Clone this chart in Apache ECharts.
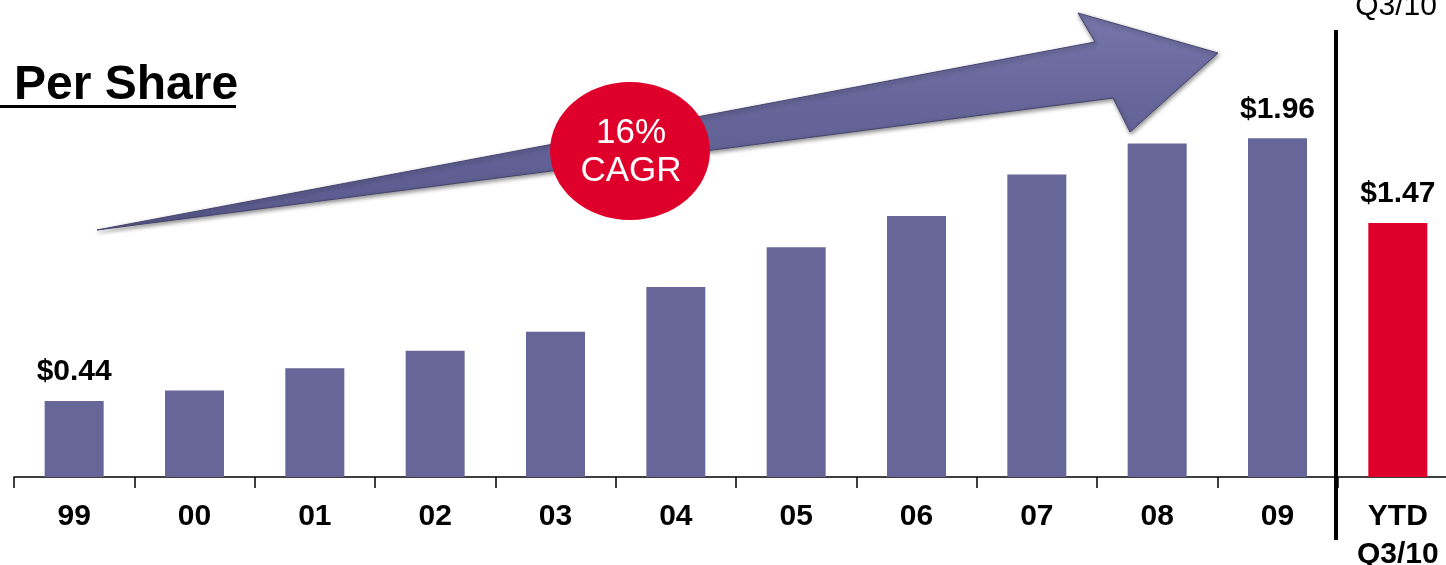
<!DOCTYPE html>
<html>
<head>
<meta charset="utf-8">
<script src="https://cdn.jsdelivr.net/npm/echarts@6/dist/echarts.min.js"></script>
<style>
html,body{margin:0;padding:0;background:#fff;}
#c{width:1446px;height:565px;}
</style>
</head>
<body>
<div id="c"></div>
<script>
var categories = ['99','00','01','02','03','04','05','06','07','08','09','YTD\nQ3/10'];
var values = [0.44,0.50,0.63,0.73,0.84,1.10,1.33,1.51,1.75,1.93,1.96,1.47];
var labelledIdx = [0,10,11];
var cagrText = '16%\nCAGR';
var titleText = 'Per Share';
var topNote = 'Q3/10';

var FONT = '"Liberation Sans", Arial, sans-serif';
var BLUE = '#666699', RED = '#de002b';

var chart = echarts.init(document.getElementById('c'));
var data = values.map(function(v,i){
  return {
    value: v,
    itemStyle: {color: i === values.length-1 ? RED : BLUE},
    label: {show: labelledIdx.indexOf(i) >= 0}
  };
});

chart.setOption({
  animation: false,
  backgroundColor: '#fff',
  grid: {left: 14, right: -12, top: 45, bottom: 88, containLabel: false, outerBoundsMode: 'none'},
  xAxis: {
    type: 'category',
    data: categories,
    axisLine: {show: true, lineStyle: {color: '#000', width: 1.5}},
    axisTick: {show: true, length: 11, alignWithLabel: false, lineStyle: {color: '#000', width: 1.5}},
    axisLabel: {color: '#000', fontFamily: FONT, fontWeight: 'bold', fontSize: 30, margin: 21, lineHeight: 38, interval: 0, hideOverlap: false}
  },
  yAxis: {type: 'value', min: 0, max: 2.5, show: false, splitLine: {show: false}},
  series: [{
    type: 'bar',
    data: data,
    barWidth: 59,
    label: {
      position: 'top', distance: 14, color: '#000', fontFamily: FONT, fontWeight: 'bold', fontSize: 30,
      formatter: function(p){ return '$' + p.value.toFixed(2); }
    }
  }],
  graphic: [
    {type: 'polygon', z: 5,
     shape: {points: [[97,230],[1095,42],[1078,13],[1218,53],[1130,132],[1113,98]]},
     style: {fill: new echarts.graphic.LinearGradient(0,0,0,1,[
        {offset:0,color:'#7676aa'},{offset:0.4,color:'#66669a'},{offset:1,color:'#5a5a8e'}]),
        stroke: '#44446f', lineWidth: 1,
        shadowBlur: 4, shadowColor: 'rgba(0,0,0,0.45)', shadowOffsetX: 1, shadowOffsetY: 2}},
    {type: 'ellipse', z: 10, shape: {cx: 630, cy: 151, rx: 80, ry: 69}, style: {fill: RED}},
    {type: 'text', z: 11, x: 631, y: 152,
     style: {text: cagrText, fill: '#fff', font: '35px ' + FONT, align: 'center', verticalAlign: 'middle', lineHeight: 38}},
    {type: 'text', z: 11, x: 14, y: 86,
     style: {text: titleText, fill: '#000', font: 'bold 48px ' + FONT, align: 'left', verticalAlign: 'middle'}},
    {type: 'rect', z: 11, shape: {x: 0, y: 105, width: 236, height: 3}, style: {fill: '#000'}},
    {type: 'text', z: 11, x: 1396, y: 7,
     style: {text: topNote, fill: '#000', font: '30px ' + FONT, align: 'center', verticalAlign: 'middle'}},
    {type: 'rect', z: 11, shape: {x: 1334, y: 30, width: 4, height: 510}, style: {fill: '#000'}}
  ]
});
</script>
</body>
</html>
